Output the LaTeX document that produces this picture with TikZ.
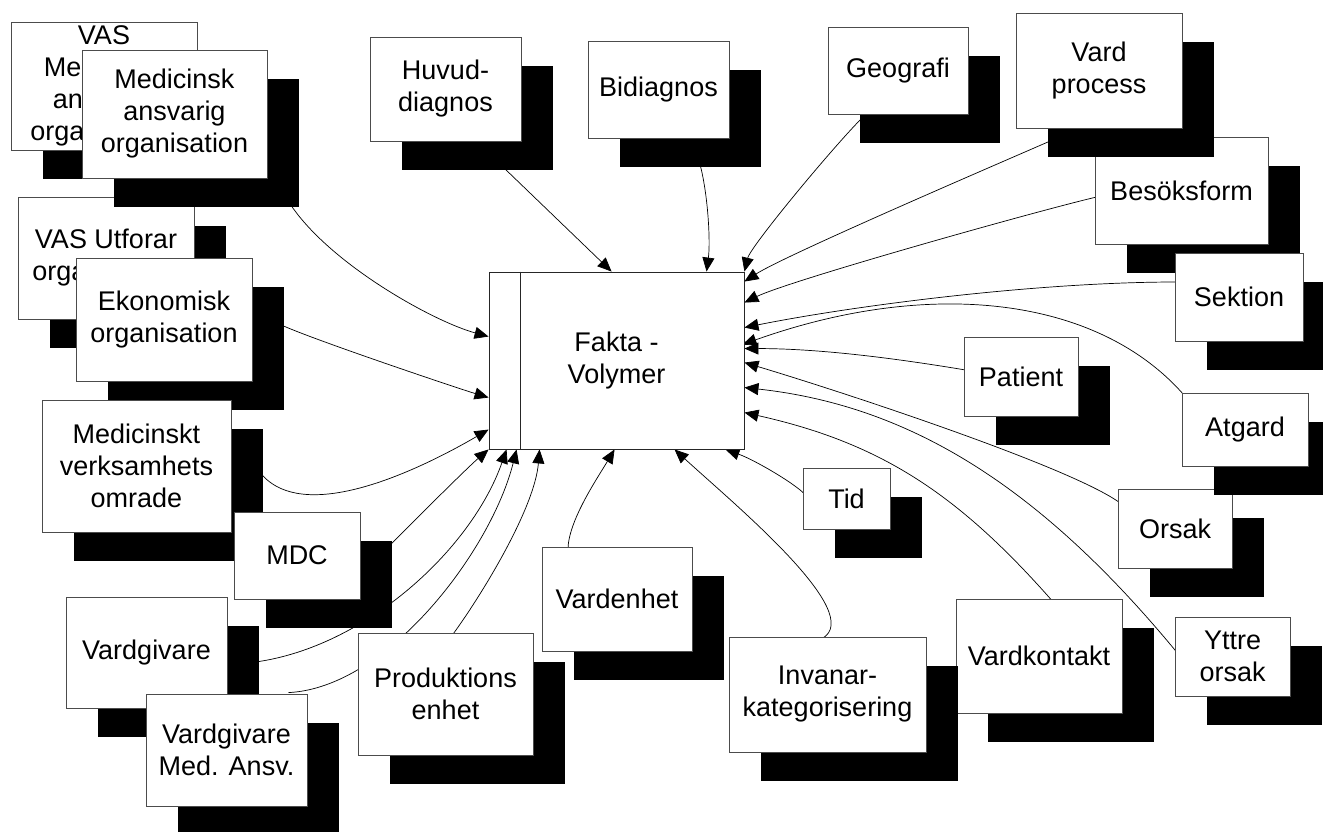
\documentclass[tikz,border=0pt]{standalone}
\usepackage{fontspec}
\setmainfont{Liberation Sans}
\usetikzlibrary{shadows,arrows.meta,calc}
\pgfdeclarelayer{back}
\pgfsetlayers{back,main}
\tikzset{
  boxsize/.style 2 args={minimum width=#1, minimum height=#2},
  dimbox/.style={draw=black!70, line width=0.8pt, fill=white, align=center,
    inner sep=0pt, font=\fontsize{27}{32}\selectfont,
    drop shadow={shadow xshift=32pt, shadow yshift=-29pt, fill=black, opacity=1}},
  factbox/.style={draw=black!85, line width=0.9pt, fill=white, align=center,
    inner sep=0pt, font=\fontsize{27}{32}\selectfont},
  link/.style={line width=0.7pt, -{Triangle[length=14pt, width=12pt]}}
}

\begin{document}
\begin{tikzpicture}[x=1pt, y=-1pt]
\useasboundingbox (0,0) rectangle (1323,832);
% Dimensions, left
    \node[dimbox, boxsize={176}{122}] (vasutf) at (106,258) {VAS Utforar\\organisation};
    \node[dimbox, boxsize={176}{123}] (ekon) at (164,319.5) {Ekonomisk\\organisation};
    \node[dimbox, boxsize={189}{132}] (mvo) at (136.5,466) {Medicinskt\\verksamhets\\omrade};
    \node[dimbox, boxsize={126}{87}] (mdc) at (297,555.5) {MDC};
    \node[dimbox, boxsize={186}{128}] (vasmed) at (104,86) {VAS\\Medicinsk\\ansvarig\\organisation};
    \node[dimbox, boxsize={185}{128}] (medansv) at (174.5,114) {Medicinsk\\ansvarig\\organisation};
    \node[dimbox, boxsize={161}{111}] (vgiv) at (146.5,652.5) {Vardgivare};
    \node[dimbox, boxsize={161}{112}] (vgma) at (226.5,750) {Vardgivare\\Med. Ansv.};
    \node[dimbox, boxsize={175}{122}] (prod) at (445.5,694) {Produktions\\enhet};
% Dimensions, bottom
    \node[dimbox, boxsize={150}{104}] (venh) at (617,599) {Vardenhet};
    \node[dimbox, boxsize={166}{114}] (vkont) at (1039,656) {Vardkontakt};
    \node[dimbox, boxsize={197}{115}] (invan) at (827.5,694.5) {Invanar-\\kategorisering};
    \node[dimbox, boxsize={87}{61}] (tid) at (846.5,498.5) {Tid};
% Dimensions, right
    \node[dimbox, boxsize={114}{79}] (orsak) at (1175,528.5) {Orsak};
    \node[dimbox, boxsize={126}{73}] (atgard) at (1245,429.5) {Atgard};
    \node[dimbox, boxsize={115}{79}] (yttre) at (1232.5,656.5) {Yttre\\orsak};
    \node[dimbox, boxsize={114}{79}] (patient) at (1021,376.5) {Patient};
    \node[dimbox, boxsize={173}{107}] (besok) at (1181.5,190.5) {Besöksform};
    \node[dimbox, boxsize={128}{88}] (sektion) at (1239,297) {Sektion};
    \node[dimbox, boxsize={166}{115}] (vproc) at (1099,70.5) {Vard\\process};
% Dimensions, top
    \node[dimbox, boxsize={140}{87}] (geo) at (898,70.5) {Geografi};
    \node[dimbox, boxsize={141}{97}] (bidiag) at (658.5,89.5) {Bidiagnos};
    \node[dimbox, boxsize={151}{104}] (huvud) at (445.5,89) {Huvud-\\diagnos};
% Fact table
    \node[factbox, boxsize={255}{177}] (fakta) at (616.5,360.5) {Fakta -\\Volymer};
    \draw[black!85, line width=0.9pt] ([xshift=32pt]fakta.north west) -- ([xshift=32pt]fakta.south west);
% Links
\begin{pgfonlayer}{back}
    \draw[link] ($(huvud.south east)+(-18,26)$) -- ($(fakta.north west)+(123,0)$);
    \draw[link] ($(bidiag.south)+(41.5,26)$) .. controls +(8,30) and +(4,-30) .. ($(fakta.north west)+(218,0)$);
    \draw[link] ($(geo.south west)+(35,3)$) .. controls +(-30,30) and +(6,-25) .. (fakta.north east);
    \draw[link] ($(vproc.south west)+(36,12)$) .. controls +(-55,24) and +(40,-26) .. ($(fakta.north east)+(0,10)$);
    \draw[link] ($(besok.west)+(2,6.5)$) .. controls +(-60,14) and +(45,-22) .. ($(fakta.north east)+(0,31)$);
    \draw[link] ($(sektion.west)+(2,-15)$) .. controls +(-140,0) and +(110,-22) .. ($(fakta.north east)+(0,56)$);
    \draw[link] ($(atgard.north west)+(2,2)$) .. controls +(-86,-98) and +(188,-67) .. ($(fakta.north east)+(-2,73)$);
    \draw[link] ($(patient.west)+(2,-6.5)$) .. controls +(-60,-10) and +(80,0) .. ($(fakta.north east)+(0,77)$);
    \draw[link] ($(orsak.north west)+(2,14)$) .. controls +(-50,-36) and +(100,30) .. ($(fakta.north east)+(0,91)$);
    \draw[link] ($(yttre.west)+(2,-4.5)$) .. controls +(-137,-166) and +(165,18) .. ($(fakta.north east)+(0,116)$);
    \draw[link] ($(vkont.north)+(13,2)$) .. controls +(-96,-109) and +(134,30) .. ($(fakta.north east)+(0,141)$);
    \draw[link] ($(tid.west)+(2,-4.5)$) .. controls +(-12,-12) and +(28,10) .. ($(fakta.south east)+(-19,0)$);
    \draw[link] ($(invan.north)+(-5.5,2)$) .. controls +(45,-25) and +(60,55) .. ($(fakta.south west)+(186,0)$);
    \draw[link] ($(venh.north)+(-49,3)$) .. controls +(0,-28) and +(-18,30) .. ($(fakta.south west)+(126,0)$);
    \draw[link] ($(prod.north)+(3.5,7)$) .. controls +(30,-40) and +(-5,60) .. ($(fakta.south west)+(51,0)$);
    \draw[link] ($(vgma.north)+(62,-1)$) .. controls +(100,-5) and +(-25,100) .. ($(fakta.south west)+(28,0)$);
    \draw[link] ($(vgiv.east)+(28,9.5)$) .. controls +(110,-15) and +(-35,100) .. ($(fakta.south west)+(18,0)$);
    \draw[link] ($(mdc.north east)+(30,33)$) .. controls +(22,-22) and +(-22,19) .. (fakta.south west);
    \draw[link] ($(mvo.east)+(29,7)$) .. controls +(45,55) and +(-60,35) .. ($(fakta.north west)+(0,158)$);
    \draw[link] ($(ekon.east)+(29,5.5)$) .. controls +(30,14) and +(-30,-9) .. ($(fakta.north west)+(0,126)$);
    \draw[link] ($(medansv.south east)+(23,26)$) .. controls +(40,60) and +(-55,-15) .. ($(fakta.north west)+(0,65)$);
\end{pgfonlayer}
\end{tikzpicture}
\end{document}
